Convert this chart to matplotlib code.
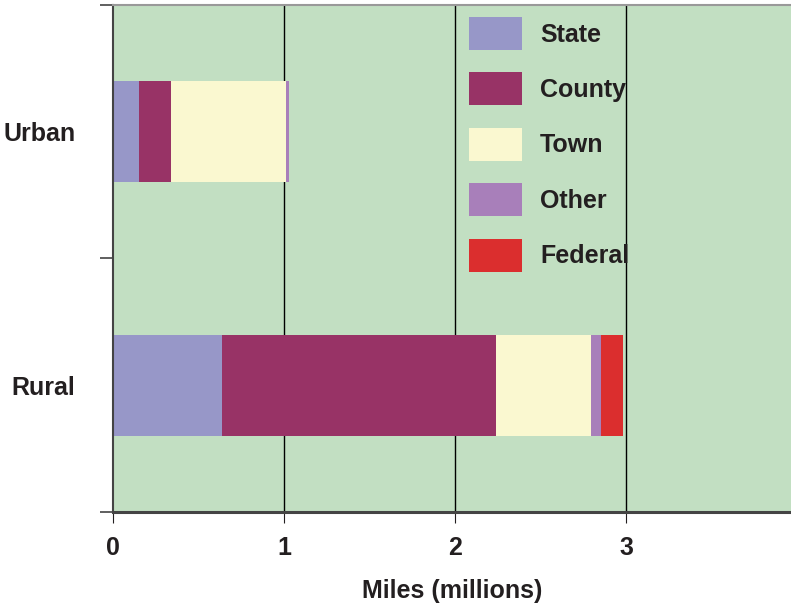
import matplotlib
matplotlib.use("Agg")
import matplotlib.pyplot as plt
from matplotlib import font_manager
from matplotlib.patches import Patch

# ---- data ----
categories = ["Urban", "Rural"]
series_names = ["State", "County", "Town", "Other", "Federal"]
state = [0.15, 0.64]
county = [0.19, 1.60]
town = [0.67, 0.555]
other = [0.02, 0.06]
federal = [0.0, 0.13]
x_ticks = [0, 1, 2, 3]
x_tick_labels = ["0", "1", "2", "3"]
x_label = "Miles (millions)"

colors = ["#9797C8", "#983366", "#FAF8D0", "#A87FBA", "#DB2E2E"]
bg = "#C2DFC2"

names = {f.name for f in font_manager.fontManager.ttflist}
fam = "Liberation Sans Narrow" if "Liberation Sans Narrow" in names else "Liberation Sans"
plt.rcParams["font.family"] = [fam, "DejaVu Sans"]
plt.rcParams["font.weight"] = "bold"

fig = plt.figure(figsize=(7.91, 6.08), dpi=100)
ax = fig.add_axes([113 / 791, 1 - 512 / 608, 1 - 113 / 791, (512 - 5) / 608])
ax.set_facecolor(bg)

series = [state, county, town, other, federal]
ypos = list(range(len(categories)))
left = [0.0] * len(categories)
for name, vals, c in zip(series_names, series, colors):
    ax.barh(ypos, vals, left=left, height=0.4, color=c, edgecolor="none", zorder=2)
    left = [l + v for l, v in zip(left, vals)]

ax.set_xlim(0, 3.965)
ax.set_ylim(1.5, -0.5)

# vertical grid
for t in x_ticks[1:]:
    ax.axvline(t, color="black", lw=1.0, zorder=1)

ax.set_xticks(x_ticks)
ax.set_xticklabels(x_tick_labels, fontsize=18, fontweight="bold", color="#231F20")
ax.tick_params(axis="x", length=8, width=0.8, color="#231F20", pad=9)

ax.set_yticks([-0.5, 0.5, 1.5])
ax.set_yticklabels(["", "", ""])
ax.tick_params(axis="y", which="major", length=9.5, width=1.2, color="#444444")
ax.set_yticks(ypos, minor=True)
ax.set_yticklabels(categories, minor=True, fontsize=18, fontweight="bold", color="#231F20")
ax.tick_params(axis="y", which="minor", length=0, pad=27)

ax.set_xlabel(x_label, fontsize=18, fontweight="bold", color="#231F20", labelpad=14)

ax.spines["right"].set_visible(False)
ax.spines["top"].set_color("#999999")
ax.spines["top"].set_linewidth(1.5)
ax.spines["left"].set_color("#444444")
ax.spines["left"].set_linewidth(1.5)
ax.spines["bottom"].set_color("#444444")
ax.spines["bottom"].set_linewidth(2.2)

handles = [Patch(facecolor=c, edgecolor="none") for c in colors]
ax.legend(handles, series_names, loc="upper left",
          bbox_to_anchor=((469 - 113) / 678, 1 - (17 - 5) / 507),
          frameon=False, borderpad=0, borderaxespad=0,
          prop={"size": 18, "weight": "bold"},
          handlelength=2.1, handleheight=1.65, labelspacing=0.9,
          handletextpad=0.75, labelcolor="#231F20")

fig.savefig("out.png", dpi=100, facecolor="white")
